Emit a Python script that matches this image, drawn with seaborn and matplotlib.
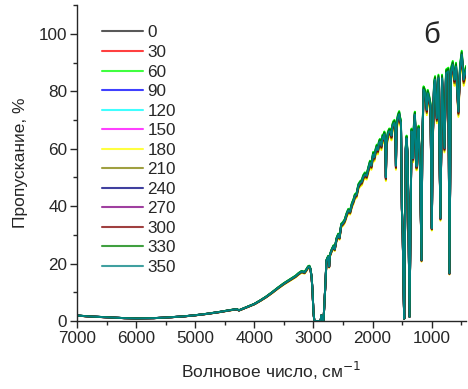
import numpy as np
import pandas as pd
import matplotlib
matplotlib.use("Agg")
import matplotlib.pyplot as plt
import seaborn as sns
from matplotlib.ticker import MultipleLocator

# IR transmission spectrum (wavenumber, cm^-1 -> transmittance, %)
wavenumber = [
    7000, 6800, 6500, 6200, 6000, 5700, 5500, 5200, 5000, 4800, 4600, 4400,
    4300, 4260, 4200, 4100, 4000, 3900, 3800, 3700, 3600, 3500, 3400, 3300,
    3250, 3200, 3150, 3120, 3090, 3070, 3050, 3030, 3015, 3000, 2985, 2880,
    2865, 2850, 2830, 2800, 2780, 2750, 2735, 2720, 2690, 2660, 2640, 2610,
    2580, 2560, 2530, 2500, 2470, 2440, 2410, 2380, 2350, 2320, 2300, 2270,
    2240, 2210, 2180, 2160, 2130, 2100, 2070, 2044, 2020, 1990, 1970, 1950,
    1930, 1910, 1890, 1875, 1850, 1830, 1815, 1800, 1785, 1775, 1765, 1740,
    1720, 1700, 1680, 1665, 1650, 1630, 1615, 1605, 1595, 1570, 1550, 1535,
    1520, 1504, 1490, 1475, 1465, 1450, 1438, 1425, 1410, 1395, 1375, 1360,
    1341, 1325, 1314, 1300, 1285, 1256, 1240, 1222, 1196, 1172, 1160, 1138,
    1110, 1083, 1066, 1040, 1020, 998, 985, 960, 943, 914, 886, 852,
    825, 784, 757, 717, 700, 673, 644, 616, 589, 548, 520, 492, 459, 420,
]
transmittance = [
    1.9, 1.6, 1.3, 1.0, 0.9, 1.0, 1.2, 1.6, 2.0, 2.5, 3.1, 3.8,
    4.1, 3.7, 4.2, 5.0, 5.9, 7.1, 8.4, 9.9, 11.5, 13.0, 14.3, 15.6,
    16.5, 17.2, 16.9, 17.8, 18.8, 19.0, 18.0, 15.0, 10.0, 3.0, 0.0, 0.0,
    2.0, 0.5, 0.0, 12.0, 21.0, 22.4, 19.0, 23.0, 24.7, 26.0, 25.0, 28.5,
    30.0, 29.0, 33.4, 34.0, 35.0, 37.0, 38.5, 38.0, 40.5, 42.0, 43.5, 44.0,
    47.0, 48.0, 48.5, 50.0, 51.0, 50.5, 53.0, 55.0, 54.0, 58.0, 57.0, 59.0,
    60.5, 59.5, 62.0, 62.5, 61.0, 64.0, 63.5, 65.0, 62.0, 50.0, 62.0, 65.0,
    66.0, 66.0, 64.5, 67.5, 68.5, 69.0, 67.0, 54.0, 68.0, 71.0, 72.0, 70.0,
    69.0, 39.0, 30.0, 10.0, 0.8, 35.0, 60.0, 63.6, 58.0, 40.0, 1.5, 30.0,
    66.0, 62.0, 56.7, 68.0, 71.8, 53.8, 62.0, 67.0, 52.6, 21.2, 60.0, 80.5,
    79.3, 73.5, 79.3, 77.0, 74.7, 32.3, 60.0, 82.0, 84.0, 70.6, 84.5, 35.8,
    84.5, 60.2, 86.3, 86.9, 16.6, 86.9, 89.2, 84.0, 88.6, 72.9, 88.0, 92.7, 84.0, 87.5,
]

# irradiation times (legend labels) and their slight spread around the base curve
times = ["0", "30", "60", "90", "120", "150", "180", "210", "240", "270", "300", "330", "350"]
series_scale = [1.0, 1.005, 1.015, 0.995, 1.008, 0.99, 0.975, 0.985, 0.997, 1.003, 0.992, 1.01, 1.0]
colors = ["#222222", "#ff0000", "#00ff00", "#0000ff", "#00ffff", "#ff00ff", "#ffff00",
          "#808000", "#000080", "#800080", "#800000", "#008000", "#008080"]

frames = []
for t, s in zip(times, series_scale):
    frames.append(pd.DataFrame({
        "wn": wavenumber,
        "T": np.array(transmittance) * s,
        "time": t,
    }))
df = pd.concat(frames, ignore_index=True)

sns.set_style("ticks")
plt.rcParams["font.family"] = ["Liberation Sans", "DejaVu Sans"]

fig = plt.figure(figsize=(4.68, 3.89), dpi=100)
ax = fig.add_axes([0.1645, 0.1748, 0.8312, 0.8122])

sns.lineplot(data=df, x="wn", y="T", hue="time", hue_order=times,
             palette=colors, sort=False, estimator=None, linewidth=1.4, ax=ax)

ax.set_xlim(7000, 420)
ax.set_ylim(0, 110)
ax.xaxis.set_major_locator(MultipleLocator(1000))
ax.xaxis.set_minor_locator(MultipleLocator(500))
ax.yaxis.set_major_locator(MultipleLocator(20))
ax.yaxis.set_minor_locator(MultipleLocator(10))
ax.tick_params(which="major", direction="out", length=5, width=1, labelsize=12.3, pad=2)
ax.tick_params(which="minor", direction="out", length=3, width=1)
for side in ("top", "right"):
    ax.spines[side].set_visible(False)
for side in ("left", "bottom"):
    ax.spines[side].set_linewidth(1)

ax.set_xlabel("Волновое число, см$^{-1}$", fontsize=12.5, labelpad=10)
ax.set_ylabel("Пропускание, %", fontsize=12.5, labelpad=8)

handles, labels = ax.get_legend_handles_labels()
leg = ax.legend(handles, labels, loc="upper left", bbox_to_anchor=(0.047, 0.957),
                frameon=False, fontsize=12.3, handlelength=2.4, handletextpad=0.25,
                labelspacing=0.265, borderaxespad=0)
for h in leg.get_lines():
    h.set_linewidth(1.5)
    h.set_alpha(0.75)

ax.text(1000, 99.6, "б", fontsize=21, ha="center", va="center")

fig.savefig("out.png", dpi=100)
